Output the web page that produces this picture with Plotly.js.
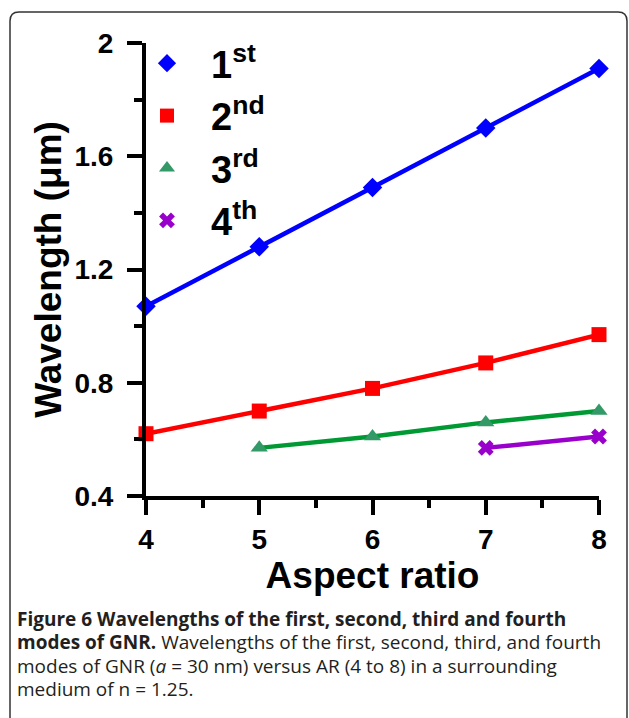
<!DOCTYPE html>
<html>
<head>
<meta charset="utf-8">
<script src="https://cdn.plot.ly/plotly-3.0.1.min.js"></script>
<style>html,body{margin:0;padding:0;background:#fff;}#chart{width:629px;height:718px;}</style>
</head>
<body>
<div id="chart"></div>
<script>
// ---- data ----
const aspectRatio = [4, 5, 6, 7, 8];
const mode1 = [1.07, 1.28, 1.49, 1.70, 1.91];
const mode2x = [4, 5, 6, 7, 8];
const mode2 = [0.62, 0.70, 0.78, 0.87, 0.97];
const mode3x = [5, 6, 7, 8];
const mode3 = [0.57, 0.61, 0.66, 0.70];
const mode4x = [7, 8];
const mode4 = [0.57, 0.61];
const seriesNames = ['1<sup>st</sup>', '2<sup>nd</sup>', '3<sup>rd</sup>', '4<sup>th</sup>'];
const xTickVals = [4, 5, 6, 7, 8];
const xTickText = ['4', '5', '6', '7', '8'];
const yTickVals = [0.4, 0.8, 1.2, 1.6, 2];
const yTickText = ['0.4', '0.8', '1.2', '1.6', '2'];
const captionLines = [
  '<b>Figure 6 Wavelengths of the first, second, third and fourth</b>',
  '<b>modes of GNR.</b> Wavelengths of the first, second, third, and fourth',
  'modes of GNR (<i>a</i> = 30 nm) versus AR (4 to 8) in a surrounding',
  'medium of n = 1.25.'
];

// ---- geometry helpers (pixels -> paper) ----
const W = 629, H = 718;
const L = 146, R = 30, T = 43, B = 222;
const pw = W - L - R, ph = H - T - B;
const px = v => (v - L) / pw;
const py = v => (H - B - v) / ph;

const lineColors = ['#0000ff', '#ff0000', '#009933', '#9900cc'];
const markerColors = ['#0000ff', '#ff0000', '#339966', '#9900cc'];
const symbols = ['diamond', 'square', 'triangle-up', 'x'];
const xs = [aspectRatio, mode2x, mode3x, mode4x];
const ys = [mode1, mode2, mode3, mode4];
const msizes = [15, 15, 15, 14];

const traces = [];
for (let i = 0; i < 4; i++) {
  traces.push({
    x: xs[i], y: ys[i], mode: 'lines+markers', type: 'scatter', showlegend: false,
    cliponaxis: false,
    line: {color: lineColors[i], width: 4.5},
    marker: {symbol: symbols[i], size: msizes[i], color: markerColors[i], line: {width: 0}}
  });
}
for (let i = 0; i < 4; i++) {
  traces.push({
    x: [null], y: [null], mode: 'markers', type: 'scatter', name: seriesNames[i],
    marker: {symbol: symbols[i], size: 14, color: markerColors[i], line: {width: 0}}
  });
}

// rounded border
const bl = 10, bt = 12, br = 627, bb = 740, rad = 9;
const path = 'M ' + px(bl) + ',' + py(bb) +
  ' L ' + px(bl) + ',' + py(bt + rad) +
  ' Q ' + px(bl) + ',' + py(bt) + ' ' + px(bl + rad) + ',' + py(bt) +
  ' L ' + px(br - rad) + ',' + py(bt) +
  ' Q ' + px(br) + ',' + py(bt) + ' ' + px(br) + ',' + py(bt + rad) +
  ' L ' + px(br) + ',' + py(bb);

const axisFont = {family: 'Liberation Sans, Arial, sans-serif', size: 28, color: '#000', weight: 'bold'};

const captionCenters = [621, 644.5, 668, 691.5];
const annotations = captionLines.map((t, i) => ({
  xref: 'paper', yref: 'paper', x: px(15), y: py(captionCenters[i]),
  xanchor: 'left', yanchor: 'middle', align: 'left', valign: 'bottom', height: 21,
  showarrow: false, text: t,
  font: {family: 'Open Sans, Noto Sans, sans-serif', size: 19, color: '#231f20'}
}));

const layout = {
  width: W, height: H,
  margin: {l: L, r: R, t: T, b: B},
  paper_bgcolor: '#fff', plot_bgcolor: '#fff',
  font: {family: 'Liberation Sans, Arial, sans-serif', color: '#000'},
  xaxis: {
    range: [4, 8], showgrid: false, zeroline: false,
    showline: true, linewidth: 4, linecolor: '#000',
    ticks: 'outside', ticklen: 15, tickwidth: 4, tickcolor: '#000',
    tickmode: 'array', tickvals: xTickVals, ticktext: xTickText,
    minor: {tickmode: 'linear', tick0: 4, dtick: 0.5, ticks: 'outside', ticklen: 8, tickwidth: 4, tickcolor: '#000'},
    tickfont: axisFont,
    title: {text: '<b>Aspect ratio</b>', font: {family: 'Liberation Sans, Arial, sans-serif', size: 37, color: '#000'}, standoff: 8}
  },
  yaxis: {
    range: [0.4, 2], showgrid: false, zeroline: false,
    showline: true, linewidth: 4, linecolor: '#000',
    ticks: 'outside', ticklen: 15, tickwidth: 4, tickcolor: '#000',
    tickmode: 'array', tickvals: yTickVals, ticktext: yTickText,
    minor: {tickmode: 'linear', tick0: 0.4, dtick: 0.2, ticks: 'outside', ticklen: 8, tickwidth: 4, tickcolor: '#000'},
    tickfont: axisFont, ticklabelstandoff: 8,
    title: {text: '<b>Wavelength (μm)</b>', font: {family: 'Liberation Sans, Arial, sans-serif', size: 37, color: '#000'}, standoff: 3}
  },
  legend: {
    x: px(123), y: py(32), xanchor: 'left', yanchor: 'top',
    bgcolor: 'rgba(0,0,0,0)', borderwidth: 0,
    font: {family: 'Liberation Sans, Arial, sans-serif', size: 38, color: '#000', weight: 'bold'},
    itemwidth: 78, tracegroupgap: 0
  },
  shapes: [{type: 'path', xref: 'paper', yref: 'paper', path: path, line: {color: '#333', width: 1.5}, layer: 'below'}],
  annotations: annotations
};

Plotly.newPlot('chart', traces, layout, {displayModeBar: false, staticPlot: true});
</script>
</body>
</html>
